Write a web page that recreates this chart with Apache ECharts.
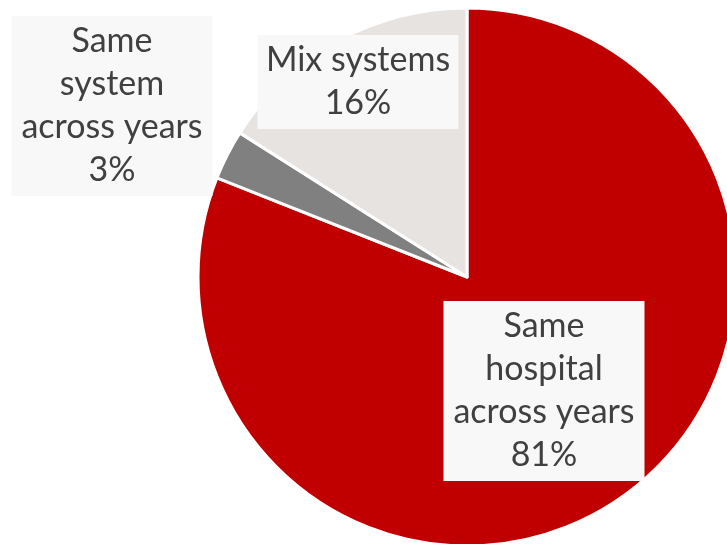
<!DOCTYPE html>
<html>
<head>
<meta charset="utf-8">
<script src="https://cdn.jsdelivr.net/npm/echarts@6/dist/echarts.min.js"></script>
<style>
  html, body { margin: 0; padding: 0; background: #fff; }
  #main { width: 727px; height: 544px; }
</style>
</head>
<body>
<div id="main"></div>
<script>
// data
var categories = ['Same hospital across years', 'Same system across years', 'Mix systems'];
var values = [81, 3, 16];
var labelText = ['Same\nhospital\nacross years\n81%', 'Same\nsystem\nacross years\n3%', 'Mix systems\n16%'];

var colors = ['#c00000', '#808080', '#e7e3e0'];
// where each label box sits (centre)
var labelPos = [[544, 391], [112, 106], [358, 82]];

var myChart = echarts.init(document.getElementById('main'));

var pieData = [];
for (var i = 0; i < categories.length; i++) {
    pieData.push({
        name: categories[i],
        value: values[i],
        itemStyle: { color: colors[i] }
    });
}

var option = {
    animation: false,
    series: [
        {
            type: 'pie',
            center: [467, 277],
            radius: 269,
            startAngle: 90,
            clockwise: true,
            data: pieData,
            itemStyle: {
                borderColor: '#ffffff',
                borderWidth: 3
            },
            labelLine: { show: false },
            label: {
                show: true,
                position: 'inside',
                formatter: function (p) {
                    return labelText[p.dataIndex];
                },
                fontFamily: 'Lato',
                fontSize: 34,
                lineHeight: 43,
                color: '#404040',
                backgroundColor: '#f8f8f8',
                width: 191,
                align: 'center',
                padding: [4, 5, 4, 5]
            },
            labelLayout: function (params) {
                var p = labelPos[params.dataIndex];
                return {
                    x: p[0],
                    y: p[1],
                    align: 'center',
                    verticalAlign: 'middle'
                };
            }
        }
    ]
};

myChart.setOption(option);
</script>
</body>
</html>
